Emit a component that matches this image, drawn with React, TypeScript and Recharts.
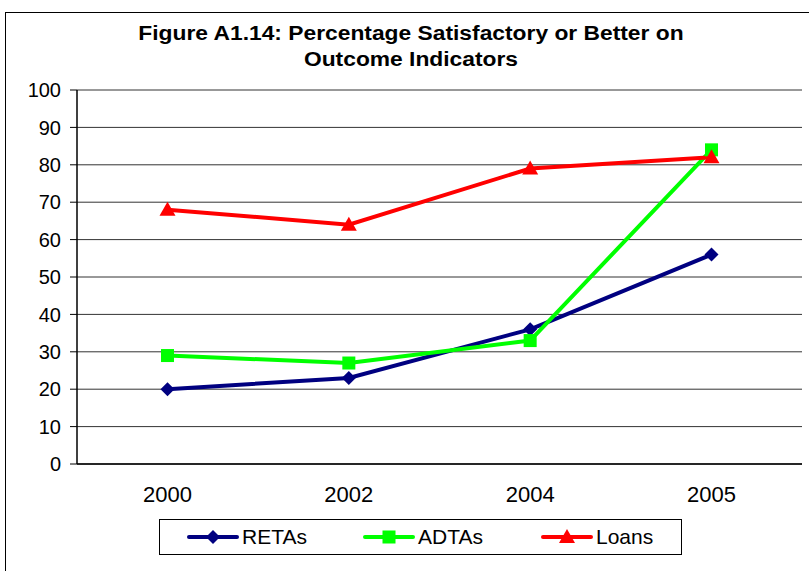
import React from 'react';
import { LineChart, Line, XAxis, YAxis, CartesianGrid } from 'recharts';

const years = ['2000', '2002', '2004', '2005'];
const retas = [20, 23, 36, 56];
const adtas = [29, 27, 33, 84];
const loans = [68, 64, 79, 82];
const yTicks = [0, 10, 20, 30, 40, 50, 60, 70, 80, 90, 100];
const titleLines = ['Figure A1.14: Percentage Satisfactory or Better on', 'Outcome Indicators'];

const data = years.map((year, i) => ({
  year,
  RETAs: retas[i],
  ADTAs: adtas[i],
  Loans: loans[i],
}));

const FONT = '"Liberation Sans", Arial, sans-serif';

const Diamond = ({ cx, cy, fill, r = 7 }: any) => (
  <polygon points={`${cx},${cy - r} ${cx + r},${cy} ${cx},${cy + r} ${cx - r},${cy}`} fill={fill} />
);
const Square = ({ cx, cy, fill, r = 6.5 }: any) => (
  <rect x={cx - r} y={cy - r} width={r * 2} height={r * 2} fill={fill} />
);
const Triangle = ({ cx, cy, fill, r = 8 }: any) => (
  <polygon points={`${cx},${cy - r} ${cx + r},${cy + r * 0.75} ${cx - r},${cy + r * 0.75}`} fill={fill} />
);

const series = [
  { key: 'RETAs', color: '#000080', Shape: Diamond },
  { key: 'ADTAs', color: '#00FF00', Shape: Square },
  { key: 'Loans', color: '#FF0000', Shape: Triangle },
];

const LegendIcon = ({ color, Shape }: any) => (
  <svg width={52} height={20} style={{ display: 'block' }}>
    <line x1={2} y1={10} x2={50} y2={10} stroke={color} strokeWidth={4} strokeLinecap="round" />
    <Shape cx={26} cy={10} fill={color} />
  </svg>
);

export default function App() {
  return (
    <div style={{ position: 'fixed', left: 0, top: 0, width: 809, height: 571, overflow: 'hidden', background: '#fff', fontFamily: FONT }}>
      <div style={{ position: 'absolute', left: 5, top: 12, width: 830, height: 620, border: '1px solid #000' }} />
      {titleLines.map((line, i) => (
        <div
          key={i}
          style={{
            position: 'absolute', left: 0, top: 20 + i * 26, width: 822, textAlign: 'center',
            fontSize: 20, fontWeight: 'bold', lineHeight: '26px', color: '#000',
            transform: 'scaleX(1.14)', transformOrigin: '411px 0',
          }}
        >
          {line}
        </div>
      ))}
      <div style={{ position: 'absolute', left: 0, top: 0 }}>
        <LineChart width={809} height={571} data={data} margin={{ top: 90, right: 7, bottom: 67, left: 0 }}>
          <CartesianGrid vertical={false} stroke="#333" strokeWidth={1} />
          <XAxis
            dataKey="year"
            padding={{ left: 90.5, right: 90.5 }}
            axisLine={{ stroke: '#000', strokeWidth: 1.5 }}
            tickLine={false}
            tickSize={0}
            tickMargin={22}
            height={40}
            tick={{ fill: '#000', fontSize: 22, fontFamily: FONT }}
          />
          <YAxis
            domain={[0, 100]}
            ticks={yTicks}
            interval={0}
            width={77}
            axisLine={{ stroke: '#000', strokeWidth: 1.5 }}
            tickLine={{ stroke: '#000' }}
            tickSize={7}
            tickMargin={9}
            tick={{ fill: '#000', fontSize: 20, fontFamily: FONT }}
          />
          <YAxis
            yAxisId="right"
            orientation="right"
            width={0}
            domain={[0, 100]}
            tick={false}
            tickLine={false}
            axisLine={{ stroke: '#888', strokeWidth: 2 }}
          />
          {series.map(({ key, color, Shape }) => (
            <Line
              key={key}
              dataKey={key}
              stroke={color}
              strokeWidth={4}
              isAnimationActive={false}
              dot={(p: any) => <Shape key={`${key}-${p.index}`} cx={p.cx} cy={p.cy} fill={color} />}
              activeDot={false}
            />
          ))}
        </LineChart>
      </div>
      <div style={{ position: 'absolute', left: 159, top: 519, width: 521, height: 34, border: '1px solid #000', fontSize: 21, color: '#000' }}>
        {series.map(({ key, color, Shape }, i) => (
          <div key={key} style={{ position: 'absolute', left: [27, 203, 381][i], top: 5, display: 'flex', alignItems: 'center' }}>
            <LegendIcon color={color} Shape={Shape} />
            <span style={{ marginLeft: 3 }}>{key}</span>
          </div>
        ))}
      </div>
    </div>
  );
}
